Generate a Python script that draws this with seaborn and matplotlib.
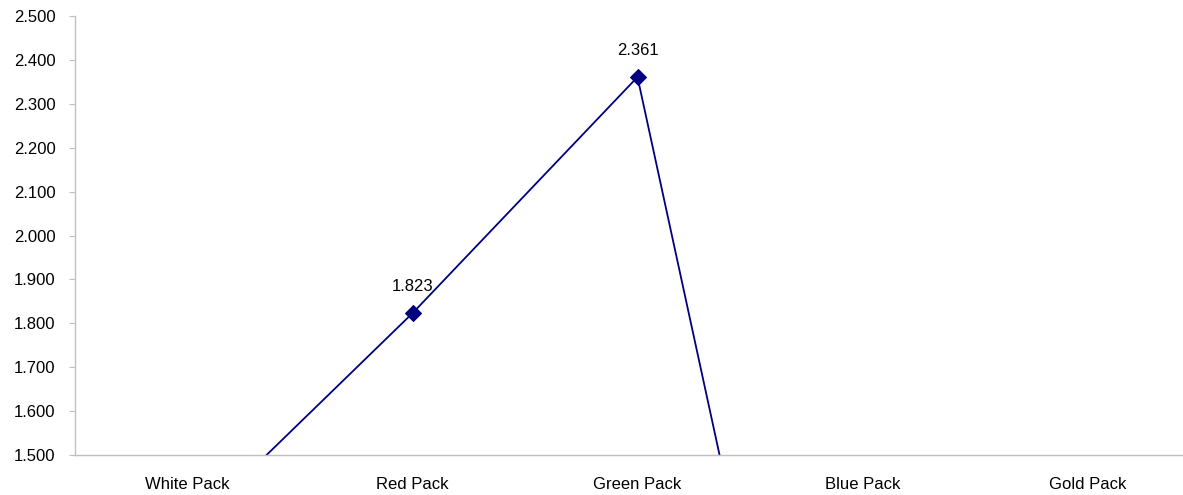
import pandas as pd
import matplotlib.pyplot as plt
import seaborn as sns
from matplotlib.ticker import FormatStrFormatter, FixedLocator

packs = ['White Pack', 'Red Pack', 'Green Pack', 'Blue Pack', 'Gold Pack']
values = [1.325, 1.823, 2.361, 0.0, 0.0]
y_ticks = [1.5, 1.6, 1.7, 1.8, 1.9, 2.0, 2.1, 2.2, 2.3, 2.4, 2.5]

df = pd.DataFrame({'pack': packs, 'value': values})

sns.set_style('white')
plt.rcParams['font.family'] = ['Liberation Sans', 'DejaVu Sans']

fig = plt.figure(figsize=(11.83, 4.95), dpi=100)
ax = fig.add_axes([75 / 1183, 1 - 455 / 495, 1125 / 1183, 439 / 495])

sns.lineplot(data=df, x='pack', y='value', sort=False, marker='D', markersize=8,
             color='#000080', markeredgecolor='#000080', linewidth=1.3, ax=ax)

for i, v in enumerate(values):
    if 1.5 <= v <= 2.5:
        ax.annotate(f'{v:.3f}', (i, v), xytext=(0, 14), textcoords='offset points',
                    ha='center', va='bottom', fontsize=12, color='black')

ax.set_xlim(-0.5, 4.5)
ax.set_ylim(1.5, 2.5)
ax.set_yticks(y_ticks)
ax.yaxis.set_major_formatter(FormatStrFormatter('%.3f'))
ax.set_xlabel('')
ax.set_ylabel('')

ax.xaxis.set_minor_locator(FixedLocator([0.5, 1.5, 2.5, 3.5]))
ax.tick_params(axis='x', which='major', length=0, pad=16, labelsize=12, labelcolor='black')
ax.tick_params(axis='x', which='minor', length=4, color='#c0c0c0', direction='out')
ax.tick_params(axis='y', length=4, color='#c0c0c0', pad=10, labelsize=12, left=True,
               labelcolor='black')

for side in ['top', 'right']:
    ax.spines[side].set_visible(False)
for side in ['left', 'bottom']:
    ax.spines[side].set_color('#c0c0c0')
    ax.spines[side].set_linewidth(1)

fig.savefig('out.png', dpi=100)
